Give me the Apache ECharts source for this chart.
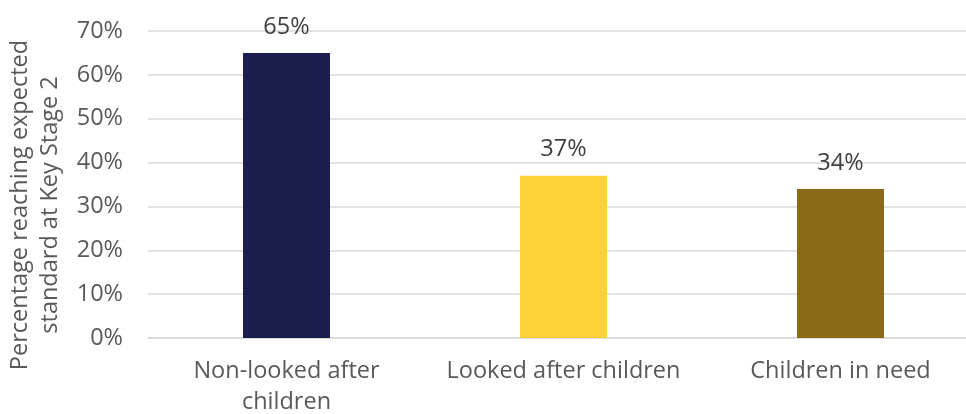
<!DOCTYPE html>
<html><head><meta charset="utf-8">
<script src="https://cdn.jsdelivr.net/npm/echarts@6/dist/echarts.min.js"></script>
<style>html,body{margin:0;padding:0;background:#fff}#c{width:966px;height:414px}</style>
</head><body><div id="c"></div>
<script>
const categories = ['Non-looked after\nchildren', 'Looked after children', 'Children in need'];
const values = [65, 37, 34];
const barColors = ['#191E4E', '#FDD138', '#8A6A17'];
const yTicks = [0, 10, 20, 30, 40, 50, 60, 70];

const chart = echarts.init(document.getElementById('c'));
const font = '"Open Sans", sans-serif';
chart.setOption({
  animation: false,
  grid: { left: 148, top: 31, width: 831, height: 307, containLabel: false, outerBoundsMode: 'none' },
  xAxis: {
    type: 'category', data: categories,
    axisLine: { show: true, lineStyle: { color: '#d9d9d9', width: 1.5 } },
    axisTick: { show: false },
    axisLabel: { color: '#595959', fontSize: 23.5, fontFamily: font, margin: 18, lineHeight: 31, interval: 0, hideOverlap: false }
  },
  yAxis: {
    type: 'value', min: yTicks[0], max: yTicks[yTicks.length - 1], interval: 10,
    name: 'Percentage reaching expected\nstandard at Key Stage 2',
    nameLocation: 'middle', nameRotate: 90, nameGap: 71,
    nameTextStyle: { color: '#595959', fontSize: 23.5, fontFamily: font, lineHeight: 30, padding: [0, 41, 0, 0] },
    axisLine: { show: false }, axisTick: { show: false },
    splitLine: { lineStyle: { color: '#d9d9d9', width: 1.5 } },
    axisLabel: { color: '#595959', fontSize: 23.5, fontFamily: font, margin: 25, formatter: v => v + '%' }
  },
  series: [{
    type: 'bar', barWidth: '31.4%',
    data: values.map((v, i) => ({ value: v, itemStyle: { color: barColors[i] } })),
    label: { show: true, position: 'top', distance: 14, color: '#404040', fontSize: 23.5, fontFamily: font, formatter: p => p.value + '%' }
  }]
});
</script></body></html>
